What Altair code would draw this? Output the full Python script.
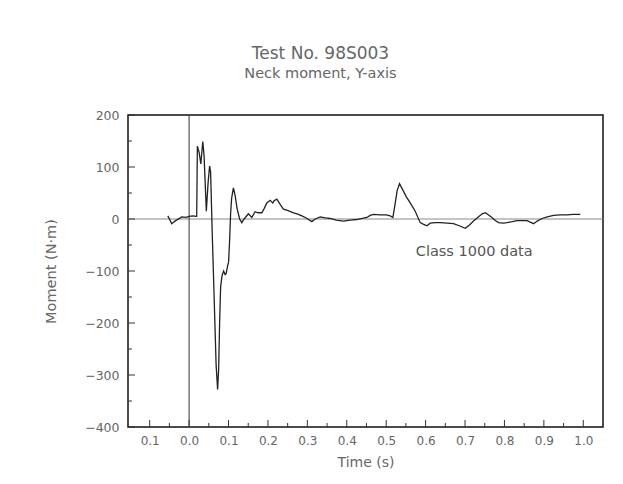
import altair as alt
import pandas as pd

# --- data ---
times = [-0.054, -0.044, -0.036, -0.0185, -0.0076, 0.0, 0.010, 0.018, 0.0193, 0.021,
         0.0254, 0.0297, 0.0348, 0.0381, 0.0437, 0.0482, 0.052, 0.0546, 0.0584, 0.0635,
         0.0685, 0.0723, 0.0749, 0.0774, 0.080, 0.0838, 0.0876, 0.0914, 0.0939, 0.0977,
         0.1003, 0.1028, 0.1053, 0.1079, 0.1124, 0.1168, 0.1218, 0.1282, 0.1338, 0.1396,
         0.1505, 0.1591, 0.1675, 0.1751, 0.1845, 0.1904, 0.1972, 0.2056, 0.2124, 0.2157,
         0.2226, 0.231, 0.2393, 0.2513, 0.2647, 0.2741, 0.286, 0.297, 0.3114, 0.3198,
         0.3325, 0.3452, 0.3579, 0.3731, 0.3916, 0.4086, 0.4256, 0.4391, 0.451, 0.4594,
         0.4678, 0.4848, 0.5, 0.5102, 0.517, 0.5228, 0.5279, 0.5338, 0.5406, 0.5508,
         0.5609, 0.5736, 0.5863, 0.5939, 0.6033, 0.6117, 0.6244, 0.637, 0.6548, 0.6708,
         0.6853, 0.7005, 0.7107, 0.7216, 0.7335, 0.7437, 0.7513, 0.7589, 0.7683, 0.7766,
         0.785, 0.797, 0.8063, 0.8198, 0.8317, 0.8426, 0.8571, 0.8655, 0.8739, 0.8832,
         0.8952, 0.9086, 0.9246, 0.9416, 0.9586, 0.9746, 0.9924]
moments = [6, -9, -4, 4, 3, 5, 6, 5, 5, 140,
           128, 106, 149, 120, 15, 70, 102, 90, -20, -150,
           -280, -328, -290, -200, -130, -108, -100, -107, -105, -90,
           -82, -40, 10, 40, 60, 45, 20, 0, -7, 0,
           10, 3, 14, 12, 12, 20, 31, 36, 31, 35,
           38, 28, 19, 16, 12, 10, 6, 2, -5, 0,
           4, 2, 1, -2, -4, -2, -1, 1, 3, 7,
           9, 8, 8, 6, 3, 30, 55, 68, 58, 43,
           31, 15, -7, -10, -13, -8, -7, -7, -8, -9,
           -13, -18, -12, -4, 4, 10, 12, 8, 3, -3,
           -7, -8, -7, -5, -3, -3, -3, -6, -9, -4,
           1, 4, 7, 8, 8, 9, 9]

x_major = [-0.1, 0.0, 0.1, 0.2, 0.3, 0.4, 0.5, 0.6, 0.7, 0.8, 0.9, 1.0]
x_minor = [-0.05, 0.05, 0.15, 0.25, 0.35, 0.45, 0.55, 0.65, 0.75, 0.85, 0.95]
y_major = [-400, -300, -200, -100, 0, 100, 200]
y_minor = [-350, -250, -150, -50, 50, 150]

annot_text = ["Class 1000 data"]
annot_t = [0.575]
annot_v = [-63]

X_DOMAIN = [-0.155, 1.05]
Y_DOMAIN = [-400, 200]
GREY = "#666666"
FONT = "DejaVu Sans"

df = pd.DataFrame({"t": times, "m": moments})

xs = alt.Scale(domain=X_DOMAIN, nice=False, zero=False)
ys = alt.Scale(domain=Y_DOMAIN, nice=False, zero=False)

x_axis = alt.Axis(values=x_major, ticks=False, grid=False, domain=False,
                  labelExpr="format(abs(datum.value), '.1f')",
                  labelFont=FONT, labelFontSize=12, labelColor=GREY,
                  labelPadding=8, title="Time (s)", titleFont=FONT,
                  titleFontSize=14, titleFontWeight="normal", titleColor=GREY,
                  titlePadding=9)
y_axis = alt.Axis(values=y_major, ticks=False, grid=False, domain=False,
                  labelFont=FONT, labelFontSize=12.5, labelColor=GREY,
                  labelPadding=9, title="Moment (N·m)", titleFont=FONT,
                  titleFontSize=14.5, titleFontWeight="normal", titleColor=GREY,
                  titlePadding=26)

line = alt.Chart(df).mark_line(color="#222222", strokeWidth=1.3).encode(
    x=alt.X("t:Q", scale=xs, axis=x_axis),
    y=alt.Y("m:Q", scale=ys, axis=y_axis),
)

zero_h = alt.Chart(pd.DataFrame({"v": [0]})).mark_rule(color="#888888", strokeWidth=1).encode(
    y=alt.Y("v:Q", scale=ys))
zero_v = alt.Chart(pd.DataFrame({"t": [0.0]})).mark_rule(color="#333333", strokeWidth=1).encode(
    x=alt.X("t:Q", scale=xs))

xt_major = alt.Chart(pd.DataFrame({"t": x_major})).mark_rule(color="#333333").encode(
    x=alt.X("t:Q", scale=xs), y=alt.value(312), y2=alt.value(305))
xt_minor = alt.Chart(pd.DataFrame({"t": x_minor})).mark_rule(color="#333333").encode(
    x=alt.X("t:Q", scale=xs), y=alt.value(312), y2=alt.value(308))
yt_major = alt.Chart(pd.DataFrame({"v": y_major})).mark_rule(color="#333333").encode(
    y=alt.Y("v:Q", scale=ys), x=alt.value(0), x2=alt.value(7))
yt_minor = alt.Chart(pd.DataFrame({"v": y_minor})).mark_rule(color="#333333").encode(
    y=alt.Y("v:Q", scale=ys), x=alt.value(0), x2=alt.value(4))

annot = alt.Chart(pd.DataFrame({"t": annot_t, "v": annot_v, "s": annot_text})).mark_text(
    align="left", baseline="middle", font=FONT, fontSize=14.5, color="#555555").encode(
    x=alt.X("t:Q", scale=xs), y=alt.Y("v:Q", scale=ys), text="s:N")

chart = alt.layer(zero_h, zero_v, xt_major, xt_minor, yt_major, yt_minor, line, annot).properties(
    width=475, height=312,
    title=alt.TitleParams(text="Test No. 98S003", subtitle="Neck moment, Y-axis",
                          font=FONT, fontSize=17, fontWeight="normal", color=GREY,
                          subtitleFont=FONT, subtitleFontSize=14.5, subtitleColor=GREY,
                          subtitlePadding=4, anchor="middle", dx=-45, offset=28),
    autosize=alt.AutoSizeParams(type="none"),
    padding={"left": 120, "top": 107, "right": 12, "bottom": 50},
).configure_view(stroke="#111111", strokeWidth=1.5)

chart.save("out.html", embed_options={"renderer": "svg", "actions": False})
